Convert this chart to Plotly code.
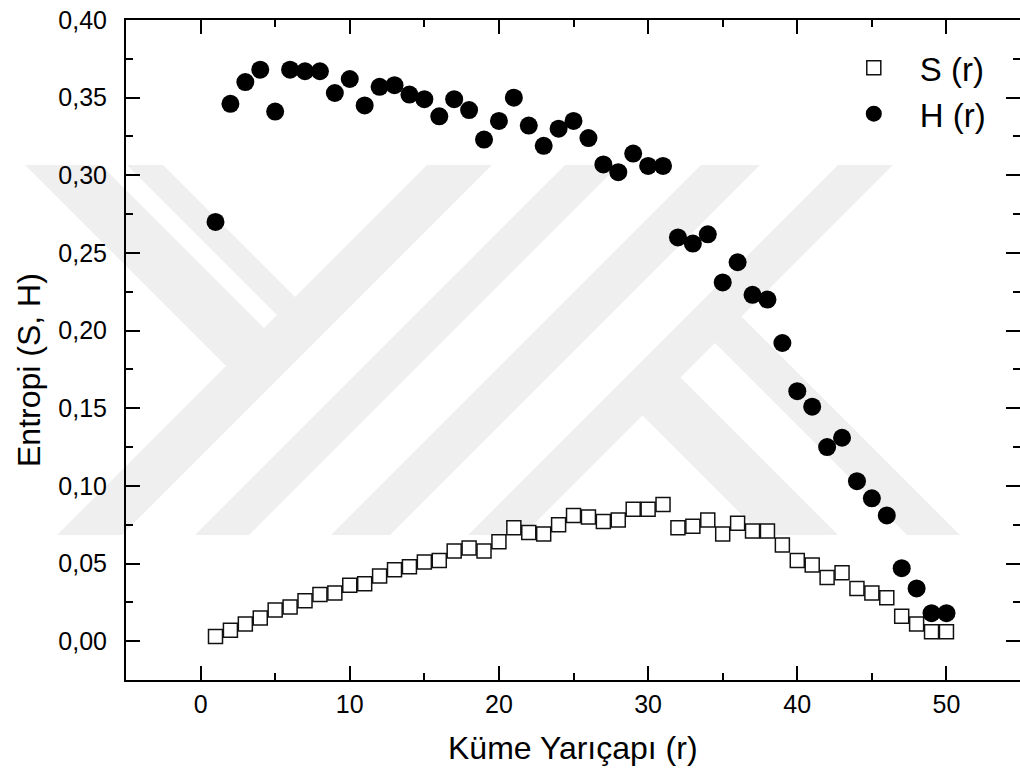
import plotly.graph_objects as go

# Cluster radius r and the two entropy measures
r_vals = list(range(1, 51))
s_vals = [0.003, 0.007, 0.011, 0.015, 0.020, 0.022, 0.026, 0.030, 0.031, 0.036,
          0.037, 0.042, 0.046, 0.048, 0.051, 0.052, 0.058, 0.060, 0.058, 0.064,
          0.073, 0.070, 0.069, 0.075, 0.081, 0.080, 0.077, 0.078, 0.085, 0.085,
          0.088, 0.073, 0.074, 0.078, 0.069, 0.076, 0.071, 0.071, 0.062, 0.052,
          0.049, 0.041, 0.044, 0.034, 0.031, 0.028, 0.016, 0.011, 0.006, 0.006]
h_vals = [0.270, 0.346, 0.360, 0.368, 0.341, 0.368, 0.367, 0.367, 0.353, 0.362,
          0.345, 0.357, 0.358, 0.352, 0.349, 0.338, 0.349, 0.342, 0.323, 0.335,
          0.350, 0.332, 0.319, 0.330, 0.335, 0.324, 0.307, 0.302, 0.314, 0.306,
          0.306, 0.260, 0.256, 0.262, 0.231, 0.244, 0.223, 0.220, 0.192, 0.161,
          0.151, 0.125, 0.131, 0.103, 0.092, 0.081, 0.047, 0.034, 0.018, 0.018]

x_range = [-5, 54.93]
y_range = [-0.025, 0.40]

FONT = "Liberation Sans, Arial, sans-serif"

# plot-area geometry in pixels
PLOT_L, PLOT_T, PLOT_W, PLOT_H = 126, 20, 894, 660
PLOT_B = PLOT_T + PLOT_H


def to_paper(x, y):
    return (x - PLOT_L) / PLOT_W, (PLOT_B - y) / PLOT_H


def poly_path(points):
    pts = [to_paper(x, y) for x, y in points]
    return "M " + " L ".join(f"{x:.4f},{y:.4f}" for x, y in pts) + " Z"


# background watermark: diagonal bands between two horizontal limits
WM_TOP, WM_BOT = 165, 535
WM_COLOR = "#efefef"
slash_bands = [(592, 657), (730, 784), (866, 925), (1003, 1058)]   # x + y ranges
left_arms = [(-140, -64), (-38, -2)]                               # x - y ranges
right_legs = [(227, 303), (372, 425)]                              # x - y ranges

wm_polys = []
for c1, c2 in slash_bands:
    wm_polys.append([(c1 - WM_BOT, WM_BOT), (c2 - WM_BOT, WM_BOT),
                     (c2 - WM_TOP, WM_TOP), (c1 - WM_TOP, WM_TOP)])
e = 625
for d1, d2 in left_arms:
    wm_polys.append([(d1 + WM_TOP, WM_TOP), (d2 + WM_TOP, WM_TOP),
                     ((e + d2) / 2, (e - d2) / 2), ((e + d1) / 2, (e - d1) / 2)])
e = 1030
for d1, d2 in right_legs:
    wm_polys.append([((e + d1) / 2, (e - d1) / 2), ((e + d2) / 2, (e - d2) / 2),
                     (d2 + WM_BOT, WM_BOT), (d1 + WM_BOT, WM_BOT)])

shapes = [dict(type="path", xref="paper", yref="paper", path=poly_path(p),
               fillcolor=WM_COLOR, line=dict(width=0), layer="below")
          for p in wm_polys]

fig = go.Figure()
fig.add_trace(go.Scatter(
    x=r_vals, y=s_vals, mode="markers", name="S (r)",
    marker=dict(symbol="square", size=14, color="white",
                line=dict(color="#111111", width=1.5)),
))
fig.add_trace(go.Scatter(
    x=r_vals, y=h_vals, mode="markers", name="H (r)",
    marker=dict(symbol="circle", size=18, color="black", line=dict(width=0)),
))
# carrier for the right-hand tick marks
fig.add_trace(go.Scatter(x=[None], y=[None], yaxis="y2", showlegend=False,
                         hoverinfo="skip", mode="markers"))

tick_font = dict(family=FONT, size=25, color="black")
tick_style = dict(ticks="inside", ticklen=14, tickwidth=2, tickcolor="black",
                  showgrid=False, zeroline=False)

fig.update_layout(
    width=1020, height=778,
    margin=dict(l=PLOT_L, r=1020 - PLOT_L - PLOT_W, t=PLOT_T, b=778 - PLOT_B),
    paper_bgcolor="white", plot_bgcolor="rgba(0,0,0,0)",
    separators=",.",
    font=dict(family=FONT, color="black"),
    shapes=shapes,
    showlegend=True,
    legend=dict(x=0.785, y=0.970, xanchor="left", yanchor="top",
                bgcolor="rgba(0,0,0,0)", borderwidth=0, itemwidth=82,
                font=dict(family=FONT, size=33, color="black")),
    xaxis=dict(range=x_range, showline=True, linewidth=2, linecolor="black",
               mirror="ticks", tick0=0, dtick=10, tickfont=tick_font,
               ticklabelstandoff=1,
               minor=dict(ticks="inside", ticklen=7, tickwidth=2,
                          tickcolor="black", tick0=0, dtick=5),
               **tick_style),
    yaxis=dict(range=y_range, showline=True, linewidth=2, linecolor="black",
               tick0=0, dtick=0.05, tickformat=".2f", tickfont=tick_font,
               ticklabelstandoff=12,
               minor=dict(ticks="inside", ticklen=7, tickwidth=2,
                          tickcolor="black", tick0=0, dtick=0.025),
               **tick_style),
    yaxis2=dict(range=y_range, overlaying="y", side="right", anchor="x",
                showline=False, showticklabels=False, tick0=0, dtick=0.05,
                minor=dict(ticks="inside", ticklen=7, tickwidth=2,
                           tickcolor="black", tick0=0, dtick=0.025),
                **tick_style),
    annotations=[
        dict(text="Küme Yarıçapı (r)", xref="paper", yref="paper",
             x=0.5, y=(PLOT_B - 748) / PLOT_H, xanchor="center", yanchor="middle",
             showarrow=False, font=dict(family=FONT, size=32, color="black")),
        dict(text="Entropi (S, H)", xref="paper", yref="paper",
             x=(29 - PLOT_L) / PLOT_W, y=(PLOT_B - 370) / PLOT_H,
             xanchor="center", yanchor="middle", textangle=-90,
             showarrow=False, font=dict(family=FONT, size=32, color="black")),
    ],
)

fig.write_html("out.html")
